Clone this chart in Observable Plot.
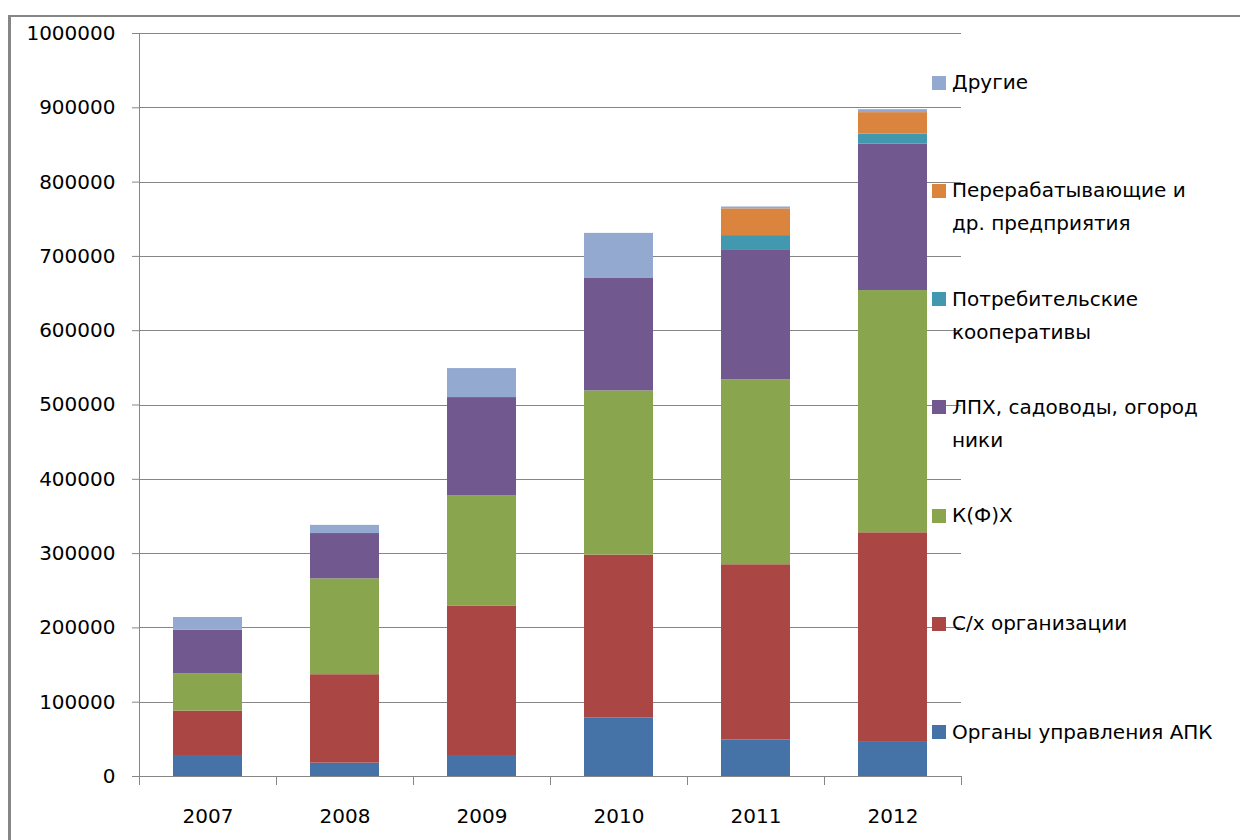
<!DOCTYPE html>
<html><head><meta charset="utf-8">
<script src="https://cdn.jsdelivr.net/npm/d3@7"></script>
<script src="https://cdn.jsdelivr.net/npm/@observablehq/plot@0.6"></script>
<style>
body{margin:0;background:#fff;}
#wrap{position:relative;width:1240px;height:840px;overflow:hidden;font-family:"DejaVu Sans",sans-serif;background:#fff;}
#frame{position:absolute;left:8px;top:15px;width:1300px;height:900px;border-left:3px solid #868686;border-top:2px solid #868686;pointer-events:none;}
#chart{position:absolute;left:0;top:0;}
#legend{position:absolute;left:932px;top:66px;}
.item{height:108.3px;display:flex;align-items:flex-start;}
.sw{width:14px;height:14px;margin-top:9.5px;margin-right:6px;flex:none;}
.lab{font-size:20px;line-height:33px;color:#000;white-space:pre;}
</style></head>
<body>
<div id="wrap"><div id="chart"></div><div id="legend"></div><div id="frame"></div></div>
<script>
const years = ["2007","2008","2009","2010","2011","2012"];
const series = ["Органы управления АПК","С/х организации","К(Ф)Х","ЛПХ, садоводы, огородники","Потребительские кооперативы","Перерабатывающие и др. предприятия","Другие"];
const legendLabels = ["Органы управления АПК","С/х организации","К(Ф)Х","ЛПХ, садоводы, огород\nники","Потребительские\nкооперативы","Перерабатывающие и\nдр. предприятия","Другие"];
const colors = ["#4572A7","#AA4643","#89A54E","#71588F","#4198AF","#DB843D","#93A9CF"];
const organy  = [27000, 18000, 27000, 79000, 49000, 47000];
const shOrg   = [61000, 119000, 202000, 219000, 236000, 281000];
const kfh     = [50000, 129000, 149000, 221000, 249000, 326000];
const lph     = [59000, 61000, 132000, 152000, 174000, 197000];
const coop    = [0, 0, 0, 0, 20000, 13500];
const pererab = [0, 0, 0, 0, 36000, 29000];
const other   = [17000, 11000, 39000, 60000, 2500, 4000];
const yTicks = [0,100000,200000,300000,400000,500000,600000,700000,800000,900000,1000000];

const seriesValues = [organy, shOrg, kfh, lph, coop, pererab, other];
const data = [];
series.forEach((s, i) => years.forEach((y, j) => data.push({series: s, year: y, value: seriesValues[i][j]})));

const categoryTicks = (index, scales, values, dim) => {
  const g = d3.create("svg:g");
  const xs = scales.x;
  const bw = typeof xs.bandwidth === "function" ? xs.bandwidth() : 0;
  const c = years.map(y => xs(y) + bw / 2);
  const step = c[1] - c[0];
  const b = [c[0] - step / 2, ...c.map(v => v + step / 2)];
  const yb = dim.height - dim.marginBottom;
  b.forEach(xx => g.append("line").attr("x1", xx).attr("x2", xx).attr("y1", yb).attr("y2", yb + 9)
    .attr("stroke", "#868686").attr("shape-rendering", "crispEdges"));
  return g.node();
};

const chart = Plot.plot({
  width: 1240, height: 840,
  marginLeft: 139, marginRight: 279, marginTop: 33, marginBottom: 64,
  style: {fontFamily: '"DejaVu Sans", sans-serif', fontSize: "20px", color: "#000", background: "transparent", overflow: "visible"},
  x: {type: "band", domain: years, paddingInner: 0.5, paddingOuter: 0.25, label: null},
  y: {domain: [0, 1000000], label: null},
  color: {domain: series, range: colors},
  marks: [
    Plot.ruleY(yTicks, {stroke: "#868686", strokeWidth: 1, shapeRendering: "crispEdges"}),
    Plot.barY(data, {x: "year", y: "value", fill: "series"}),
    Plot.axisY({ticks: yTicks, tickSize: 7, tickPadding: 17, tickFormat: d => String(d), stroke: "#868686", fill: "#000", label: null}),
    Plot.axisX({tickSize: 0, tickPadding: 32, label: null, fill: "#000"}),
    Plot.frame({anchor: "left", stroke: "#868686", shapeRendering: "crispEdges"}),
    categoryTicks
  ]
});
document.getElementById("chart").appendChild(chart);

const legend = d3.select("#legend");
series.map((s, i) => i).reverse().forEach(i => {
  const it = legend.append("div").attr("class", "item");
  it.append("div").attr("class", "sw").style("background", colors[i]);
  it.append("div").attr("class", "lab").text(legendLabels[i]);
});
</script>
</body></html>
